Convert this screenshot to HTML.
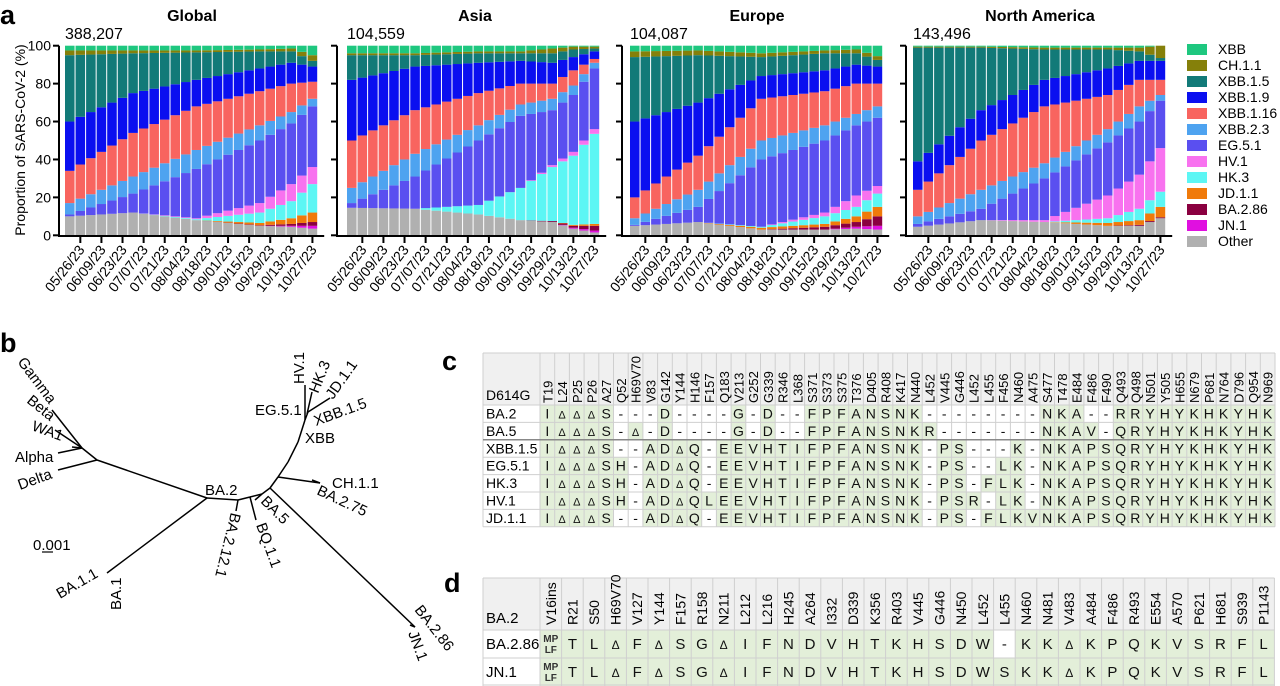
<!DOCTYPE html>
<html><head><meta charset="utf-8">
<style>
html,body{margin:0;padding:0;background:#fff;}
svg{display:block;font-family:"Liberation Sans",Arial,sans-serif;}
</style></head>
<body>
<svg id="s" width="1280" height="686" viewBox="0 0 1280 686" xmlns="http://www.w3.org/2000/svg"></svg>
<script>
const S=document.getElementById('s');let h='';
const cols=['#b0b0b0','#e010e0','#8a0040','#f07a0a','#5cf6f4','#f872ef','#5a4ff0','#4ea3f0','#f8645f','#0a0ff0','#127a78','#85800a','#1ec77f'];
const names=['XBB','CH.1.1','XBB.1.5','XBB.1.9','XBB.1.16','XBB.2.3','EG.5.1','HV.1','HK.3','JD.1.1','BA.2.86','JN.1','Other'];
const lcols=['#1ec77f','#85800a','#127a78','#0a0ff0','#f8645f','#4ea3f0','#5a4ff0','#f872ef','#5cf6f4','#f07a0a','#8a0040','#e010e0','#b0b0b0'];
const P=[
{t:'Global',n:'388,207',x0:65,ax:59,tx:192,k:[
[0,10,10,10,10,10,10,11,17,34,60,95,97.5],
[6,12,12,12,12,12,12,22,31,54,75,96,97.5],
[12,8,8,8,8,8.5,9,35,45,68,82,96.5,97.5],
[18,5,5,5.3,6.5,12,17,50,58,76,88,97,98],
[21,4.5,5,6,9,18,27,59,65,80,91,97,98.5],
[23,3.5,5,7,12,27,36,68,72,81,89,92,95]]},
{t:'Asia',n:'104,559',x0:347,ax:337,tx:475,k:[
[0,14.5,14.5,14.5,14.5,14.5,14.5,17,25,50,82,95,96],
[6,14,14,14,14,14,14,31,43,66,89,95,96],
[12,11,11,11,11,16,16,50,58,75,91,96,97],
[16,8,8,8,8,25,25,63,69,80,92,96,97],
[19,7,7,7.5,7.5,36,37,66,72,80,91,96,98.5],
[21,3.5,4,5,5.5,42,44,74,79,87,94,98,99.5],
[23,1.5,2.5,5,6,53.5,56,88,91,93,97,98.5,99.5]]},
{t:'Europe',n:'104,087',x0:630,ax:622,tx:757,k:[
[0,5,5,5,5,5,5,5.5,9,20,60,94,97],
[6,7,7,7,7,7,7,15,24,42,70,95,97.5],
[12,3,3,3,4,4.5,4.5,40,50,72,84,94,96],
[18,3,3,4.5,6,10,12,50,58,76,87,96,97.5],
[21,3.5,4.5,7,10,15,21,58,64,80,90,96,98],
[23,3,5,10,15,22,26,62,68,80,89,92.5,94.5]]},
{t:'North America',n:'143,496',x0:913,ax:906,tx:1040,k:[
[0,4.5,4.5,4.5,4.5,4.5,4.5,6,10,24,39,99,99.5],
[6,8,8,8,8,8,8,14,24,50,66,99,99.5],
[12,7,7,7,7,7,8,30,38,68,82,98,99],
[18,5,5,5,6.5,9,21,49,56,74,88,98,99],
[21,5,5,5.5,8,14,32,60,68,82,92,97,99],
[23,9,9,9.5,15,23,46,71,74,82,92,93.5,100]]}];
const Y=v=>235.3-v*1.896;const bw=10.55;
const dates=['05/26/23','06/09/23','06/23/23','07/07/23','07/21/23','08/04/23','08/18/23','09/01/23','09/15/23','09/29/23','10/13/23','10/27/23'];
h+='<text x="0" y="24" font-size="27" font-weight="bold">a</text>';
h+='<text transform="translate(25,140) rotate(-90)" text-anchor="middle" font-size="14">Proportion of SARS-CoV-2 (%)</text>';
P.forEach((p,pi)=>{
 h+=`<text x="${p.tx}" y="21" text-anchor="middle" font-size="16" font-weight="bold">${p.t}</text>`;
 h+=`<text x="${p.x0}" y="39" font-size="16">${p.n}</text>`;
 for(let i=0;i<24;i++){
  let a=p.k[0],b=p.k[p.k.length-1];
  for(let j=0;j<p.k.length-1;j++){if(i>=p.k[j][0]&&i<=p.k[j+1][0]){a=p.k[j];b=p.k[j+1];break;}}
  const f=b[0]===a[0]?0:(i-a[0])/(b[0]-a[0]);
  const bd=[0];for(let c=1;c<=12;c++)bd.push(a[c]+(b[c]-a[c])*f);bd.push(100);
  const x=p.x0+i*bw;
  for(let c=0;c<13;c++){const y1=Y(bd[c+1]),y0=Y(bd[c]);if(y0-y1>0.05)h+=`<rect x="${x.toFixed(2)}" y="${y1.toFixed(2)}" width="${(bw-1).toFixed(2)}" height="${(y0-y1).toFixed(2)}" fill="${cols[c]}"/>`;}
 }
 h+=`<line x1="${p.ax}" y1="${Y(100)}" x2="${p.ax}" y2="236" stroke="#000" stroke-width="2"/>`;
 h+=`<line x1="${p.ax-1}" y1="236" x2="${p.x0+24*bw+6}" y2="236" stroke="#000" stroke-width="2"/>`;
 for(let v=0;v<=100;v+=20){h+=`<line x1="${p.ax-6}" y1="${Y(v)}" x2="${p.ax}" y2="${Y(v)}" stroke="#000" stroke-width="2"/>`;
  if(pi==0)h+=`<text x="${p.ax-8}" y="${Y(v)+5}" text-anchor="end" font-size="14">${v}</text>`;}
 for(let t=0;t<12;t++){const tx=p.x0+(2*t+1)*bw+bw/2-0.5;
  h+=`<line x1="${tx}" y1="236" x2="${tx}" y2="243" stroke="#000" stroke-width="2"/>`;
  h+=`<text transform="translate(${tx+5},250) rotate(-52)" text-anchor="end" font-size="14">${dates[t]}</text>`;}
});
names.forEach((n,i)=>{const y=49+i*16;h+=`<rect x="1187" y="${y-5}" width="20" height="11" fill="${lcols[i]}"/><text x="1218" y="${y+5}" font-size="14">${n}</text>`;});
h+='<text x="0" y="352" font-size="27" font-weight="bold">b</text>';
const L=(a)=>{for(let i=0;i<a.length-2;i+=2)h+=`<line x1="${a[i]}" y1="${a[i+1]}" x2="${a[i+2]}" y2="${a[i+3]}" stroke="#000" stroke-width="1.5"/>`;};
L([52,410,82,448,97,460]);L([55,430,82,448]);L([72,447,82,448]);L([58,453,82,448]);L([58,470,97,460]);
L([97,460,207,498,238,500,250,497,262,494,270,488,278,477]);
L([207,498,107,573]);L([238,500,236,511]);L([250,497,256,520]);L([262,494,255,500]);
L([270,488,415,627]);L([415,627,410,625]);
L([278,477,320,483]);L([320,483,312,480]);
L([278,477,288,462,298,442,305,420,308,412,330,398]);L([305,420,305,385]);L([307,414,312,392]);
const T=(x,y,r,s,extra)=>{h+=`<text transform="translate(${x},${y}) rotate(${r})" font-size="15" ${extra||''}>${s}</text>`;};
T(17,362,53,'Gamma');T(26,402,39,'Beta');T(31,430,20,'WA1');T(15,462,0,'Alpha');T(20,490,-20,'Delta');
T(205,495,0,'BA.2');T(231,512,104,'BA.2.12.1');T(260,502,45,'BA.5');T(256,525,70,'BQ.1.1');
T(60,599,-30,'BA.1.1');T(121,610,-90,'BA.1');T(255,415,0,'EG.5.1');T(304,384,-90,'HV.1');
T(318,394,-68,'HK.3');T(333,400,-55,'JD.1.1');T(316,426,-20,'XBB.1.5');T(305,443,0,'XBB');
T(332,488,0,'CH.1.1');T(316,494,25,'BA.2.75');T(414,610,52,'BA.2.86');T(408,633,70,'JN.1');
h+='<text x="33" y="550" font-size="15">0.001</text><line x1="42" y1="552" x2="53" y2="552" stroke="#000" stroke-width="1.2"/>';
h+='<text x="442" y="370" font-size="27" font-weight="bold">c</text>';
const cH=['T19','L24','P25','P26','A27','Q52','H69V70','V83','G142','Y144','H146','F157','Q183','V213','G252','G339','R346','L368','S371','S373','S375','T376','D405','R408','K417','N440','L452','V445','G446','L452','L455','F456','N460','A475','S477','T478','E484','F486','F490','Q493','Q498','N501','Y505','H655','N679','P681','N764','D796','Q954','N969'];
const xb='I,Δ,Δ,Δ,S,-,-,A,D,Δ,Q,-,E,E,V,H,T,I,F,P,F,A,N,S,N,K,-,P,S,-,-,-,K,-,N,K,A,P,S,Q,R,Y,H,Y,K,H,K,Y,H,K'.split(',');
const ba2='I,Δ,Δ,Δ,S,-,-,-,D,-,-,-,-,G,-,D,-,-,F,P,F,A,N,S,N,K,-,-,-,-,-,-,-,-,N,K,A,-,-,R,R,Y,H,Y,K,H,K,Y,H,K'.split(',');
const ba5=ba2.slice();ba5[6]='Δ';ba5[26]='R';ba5[37]='V';ba5[39]='Q';
const eg=xb.slice();eg[5]='H';eg[31]='L';
const hk=xb.slice();hk[5]='H';hk[30]='F';hk[31]='L';
const hv=xb.slice();hv[5]='H';hv[11]='L';hv[29]='R';hv[31]='L';
const jd=xb.slice();jd[30]='F';jd[31]='L';jd[33]='V';
const rows=[['BA.2',ba2],['BA.5',ba5],['XBB.1.5',xb],['EG.5.1',eg],['HK.3',hk],['HV.1',hv],['JD.1.1',jd]];
const cx0=540,cw=14.7,ht=353,hb=405,rh=17.4;
const cR=cx0+cw*50;
h+=`<rect x="483" y="${ht}" width="${cR-483}" height="${hb-ht}" fill="#f0f0f0"/>`;
rows.forEach((r,ri)=>{const y=hb+ri*rh;
 r[1].forEach((v,ci)=>{const x=cx0+ci*cw;const g=v!=='-';
  if(g)h+=`<rect x="${x}" y="${y}" width="${cw}" height="${rh}" fill="#e3efd9"/>`;
  h+=`<text x="${x+cw/2}" y="${y+13.5}" text-anchor="middle" font-size="${v==='Δ'?11:14}" fill="#111">${v}</text>`;});
 h+=`<text x="486" y="${y+13.5}" font-size="14">${r[0]}</text>`;});
const tb=hb+7*rh;
for(let i=0;i<=50;i++){const x=cx0+i*cw;h+=`<line x1="${x}" y1="${ht}" x2="${x}" y2="${tb}" stroke="#cfcfcf" stroke-width="1"/>`;}
h+=`<line x1="483" y1="${ht}" x2="483" y2="${tb}" stroke="#cfcfcf"/>`;
for(let i=0;i<=7;i++){const y=hb+i*rh;h+=`<line x1="483" y1="${y}" x2="${cR}" y2="${y}" stroke="${i==2?'#888':'#cfcfcf'}" stroke-width="${i==2?1.5:1}"/>`;}
h+=`<line x1="483" y1="${ht}" x2="${cR}" y2="${ht}" stroke="#cfcfcf"/>`;
cH.forEach((c,i)=>{const x=cx0+i*cw+cw/2+5;h+=`<text transform="translate(${x},${hb-2}) rotate(-90)" font-size="13">${c}</text>`;});
h+=`<text x="486" y="${hb-5}" font-size="14">D614G</text>`;
h+='<text x="444" y="592" font-size="27" font-weight="bold">d</text>';
const dH=['V16ins','R21','S50','H69V70','V127','Y144','F157','R158','N211','L212','L216','H245','A264','I332','D339','K356','R403','V445','G446','N450','L452','L455','N460','N481','V483','A484','F486','R493','E554','A570','P621','H681','S939','P1143'];
const dv='MP,T,L,Δ,F,Δ,S,G,Δ,I,F,N,D,V,H,T,K,H,S,D,W,-,K,K,Δ,K,P,Q,K,V,S,R,F,L'.split(',');
const jn=dv.slice();jn[21]='S';
const dx0=540,dw=21.6,dt=578,db=630,drh=28;const dR=dx0+dw*34;
h+=`<rect x="483" y="${dt}" width="${dR-483}" height="${db-dt}" fill="#f0f0f0"/>`;
[['BA.2.86',dv],['JN.1',jn]].forEach((r,ri)=>{const y=db+ri*drh;
 r[1].forEach((v,ci)=>{const x=dx0+ci*dw;
  if(v!=='-')h+=`<rect x="${x}" y="${y}" width="${dw}" height="${drh}" fill="#e3efd9"/>`;
  if(ci==0)h+=`<text x="${x+dw/2}" y="${y+12}" text-anchor="middle" font-size="10" font-weight="bold" fill="#333">MP</text><text x="${x+dw/2}" y="${y+23}" text-anchor="middle" font-size="10" font-weight="bold" fill="#333">LF</text>`;
  else h+=`<text x="${x+dw/2}" y="${y+19}" text-anchor="middle" font-size="${v==='Δ'?12:15}" fill="#111">${v}</text>`;});
 h+=`<text x="486" y="${y+19}" font-size="15">${r[0]}</text>`;});
for(let i=0;i<=34;i++){const x=dx0+i*dw;h+=`<line x1="${x}" y1="${dt}" x2="${x}" y2="686" stroke="#cfcfcf"/>`;}
h+=`<line x1="483" y1="${dt}" x2="483" y2="686" stroke="#cfcfcf"/>`;
[dt,db,db+drh,db+2*drh-1].forEach(y=>{h+=`<line x1="483" y1="${y}" x2="${dR}" y2="${y}" stroke="#cfcfcf"/>`;});
dH.forEach((c,i)=>{const x=dx0+i*dw+dw/2+5;h+=`<text transform="translate(${x},${db-5}) rotate(-90)" font-size="14">${c}</text>`;});
h+=`<text x="486" y="${db-7}" font-size="15">BA.2</text>`;
S.innerHTML=h;
</script>
</body></html>
